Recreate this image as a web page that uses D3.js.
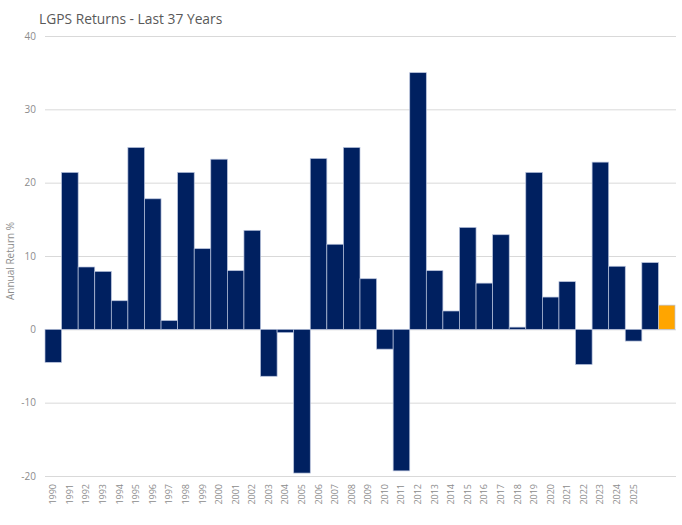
<!DOCTYPE html>
<meta charset="utf-8">
<script src="https://d3js.org/d3.v7.min.js"></script>
<style>
body { margin: 0; background: #fff; }
text { font-family: "Open Sans", "Liberation Sans", sans-serif; }
.grid line { stroke: #d9d9d9; stroke-width: 1px; }
.tick-label { fill: #8c8c8c; font-size: 10px; }
.year { fill: #8c8c8c; font-size: 9px; }
</style>
<body>
<script>

// tick labels on the x axis (last two bars carry no label)
var years = ["1990","1991","1992","1993","1994","1995","1996","1997","1998","1999",
             "2000","2001","2002","2003","2004","2005","2006","2007","2008","2009",
             "2010","2011","2012","2013","2014","2015","2016","2017","2018","2019",
             "2020","2021","2022","2023","2024","2025","",""];

// annual returns %
var returns = [-4.5, 21.4, 8.5, 7.9, 3.9, 24.8, 17.8, 1.2, 21.4, 11.0,
               23.2, 8.0, 13.5, -6.4, -0.45, -19.6, 23.3, 11.6, 24.8, 6.9,
               -2.7, -19.3, 35.0, 8.0, 2.5, 13.9, 6.3, 12.9, 0.3, 21.4,
               4.4, 6.5, -4.8, 22.8, 8.6, -1.6, 9.1, 3.3];

// the final bar is highlighted
var highlight = [false, false, false, false, false, false, false, false, false, false,
                 false, false, false, false, false, false, false, false, false, false,
                 false, false, false, false, false, false, false, false, false, false,
                 false, false, false, false, false, false, false, true];

var yTicks = [-20, -10, 0, 10, 20, 30, 40];

var width = 682,
    height = 525;

var svg = d3.select("body").append("svg")
    .attr("width", width)
    .attr("height", height);

var x = d3.scaleBand()
    .domain(d3.range(returns.length))
    .range([45, 675])
    .padding(0);

var y = d3.scaleLinear()
    .domain([-20, 40])
    .range([476, 36]);

// title
svg.append("text")
    .attr("x", 39)
    .attr("y", 24)
    .style("font-size", "13.8px")
    .style("fill", "#595959")
    .text("LGPS Returns - Last 37 Years");

// gridlines
svg.append("g")
    .attr("class", "grid")
    .selectAll("line")
    .data(yTicks)
    .enter().append("line")
    .attr("x1", 45)
    .attr("x2", 676)
    .attr("y1", function(d) { return y(d) + 0.5; })
    .attr("y2", function(d) { return y(d) + 0.5; });

// y tick labels
svg.append("g")
    .selectAll("text")
    .data(yTicks)
    .enter().append("text")
    .attr("class", "tick-label")
    .attr("x", 36)
    .attr("y", function(d) { return y(d); })
    .attr("dy", "0.35em")
    .attr("text-anchor", "end")
    .text(function(d) { return d; });

// y axis title
svg.append("text")
    .attr("transform", "translate(14," + 261 + ") rotate(-90)")
    .attr("text-anchor", "middle")
    .style("font-size", "10px")
    .style("fill", "#8c8c8c")
    .text("Annual Return %");

// bars
svg.append("g")
    .selectAll("rect")
    .data(returns)
    .enter().append("rect")
    .attr("x", function(d, i) { return x(i); })
    .attr("width", x.bandwidth())
    .attr("y", function(d) { return y(Math.max(0, d)); })
    .attr("height", function(d) { return Math.abs(y(d) - y(0)); })
    .style("fill", function(d, i) { return highlight[i] ? "#ffa500" : "#002060"; })
    .style("stroke", "#b7c2dc")
    .style("stroke-width", 0.7);

// year labels
svg.append("g")
    .selectAll("text")
    .data(years)
    .enter().append("text")
    .attr("class", "year")
    .attr("transform", function(d, i) {
        return "translate(" + (x(i) + x.bandwidth() / 2 + 3) + ",484) rotate(-90)";
    })
    .attr("text-anchor", "end")
    .text(function(d) { return d; });

</script>
</body>
</html>
